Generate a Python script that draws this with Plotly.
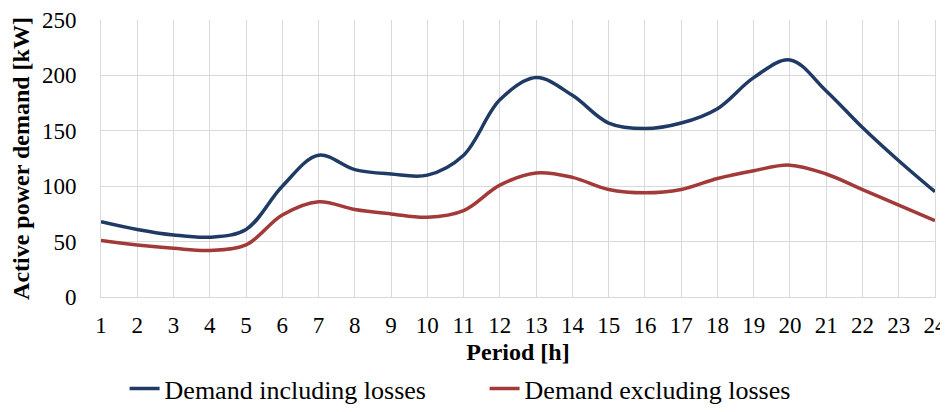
import plotly.graph_objects as go

periods = list(range(1, 25))
tick_labels = [str(p) for p in periods]
demand_incl = [68, 61, 56, 54, 61, 100, 128, 115, 111, 110, 128, 178,
               198, 182, 157, 152, 157, 170, 198, 214, 186, 153, 123, 95]
demand_excl = [51, 47, 44, 42, 47, 74, 86, 79, 75, 72, 78, 101,
               112, 108, 97, 94, 97, 107, 114, 119, 111, 97, 83, 69]

FF = "Liberation Serif"
GRID = "#D9D9D9"

fig = go.Figure()
fig.add_trace(go.Scatter(x=periods, y=demand_incl, mode="lines",
                         name="Demand including losses",
                         line=dict(color="#1F3A64", width=3.5, shape="spline", smoothing=1.0)))
fig.add_trace(go.Scatter(x=periods, y=demand_excl, mode="lines",
                         name="Demand excluding losses",
                         line=dict(color="#A33A3A", width=3.5, shape="spline", smoothing=1.0)))

fig.update_layout(
    width=940, height=404,
    margin=dict(l=93, r=13, t=12, b=115, autoexpand=False),
    paper_bgcolor="white", plot_bgcolor="white",
    font=dict(family=FF, size=23, color="#000000"),
    legend=dict(orientation="h", xref="container", yref="container",
                x=0.507, xanchor="center", y=-0.012, yanchor="bottom",
                entrywidth=315, entrywidthmode="pixels",
                font=dict(family=FF, size=26, color="#000000"), tracegroupgap=0),
    showlegend=True,
)
fig.update_xaxes(
    range=[1, 24], tickmode="array", tickvals=periods, ticktext=tick_labels,
    showgrid=True, gridcolor=GRID, gridwidth=1,
    showline=True, linecolor=GRID, linewidth=1, zeroline=False,
    tickfont=dict(family=FF, size=23, color="#000000"), ticks="", ticklabelstandoff=7,
    ticklabeloverflow="allow",
    title=dict(text="<b>Period [h]</b>", font=dict(family=FF, size=24, color="#000000"), standoff=7),
)
fig.update_yaxes(
    range=[0, 250], tickvals=[0, 50, 100, 150, 200, 250],
    showgrid=True, gridcolor=GRID, gridwidth=1,
    showline=True, mirror=True, linecolor=GRID, linewidth=1, zeroline=False,
    tickfont=dict(family=FF, size=23, color="#000000"),
    ticks="outside", ticklen=19, tickcolor="rgba(0,0,0,0)",
    title=dict(text="<b>Active power demand [kW]</b>", font=dict(family=FF, size=24, color="#000000"), standoff=8),
)

fig.write_html("out.html")
